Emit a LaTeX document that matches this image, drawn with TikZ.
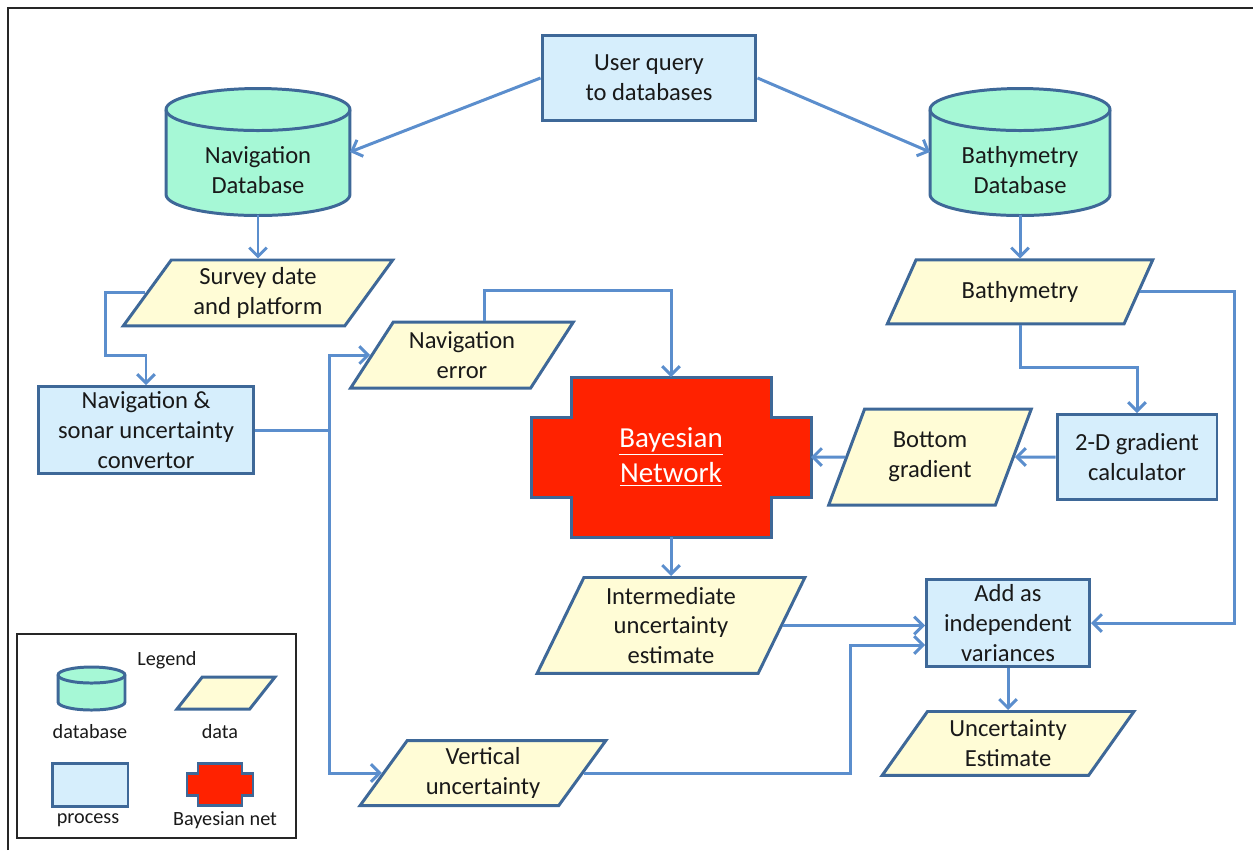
\documentclass[tikz,border=0pt]{standalone}
\usepackage{fontspec}
\setmainfont{Carlito}
\usepackage{tikz}
\usetikzlibrary{shapes.geometric, arrows.meta, positioning, calc, backgrounds}
\definecolor{linkblue}{RGB}{91,142,205}
\definecolor{edgeblue}{RGB}{62,104,152}
\definecolor{procfill}{RGB}{214,238,252}
\definecolor{datafill}{RGB}{255,252,214}
\definecolor{dbfill}{RGB}{166,248,214}
\definecolor{bnred}{RGB}{255,34,0}
\definecolor{txtgray}{RGB}{25,25,25}
\tikzstyle{arrow} = [draw=linkblue, line width=1.7pt, -{Straight Barb[length=5pt,width=10pt]}]
\tikzstyle{line} = [draw=linkblue, line width=1.7pt, -]

% cylinder drawn round an empty node: node, x radius, y radius
\newcommand{\dbcyl}[3]{%
  \filldraw[fill=dbfill, draw=edgeblue, line width=1.7pt]
    ([yshift=-#3]#1.north west) -- ([yshift=#3]#1.south west)
    arc[start angle=180, end angle=360, x radius=#2, y radius=#3]
    -- ([yshift=-#3]#1.north east)
    arc[start angle=0, end angle=180, x radius=#2, y radius=#3] -- cycle;
  \draw[draw=edgeblue, line width=1.7pt] ([yshift=-#3]#1.north west)
    arc[start angle=180, end angle=360, x radius=#2, y radius=#3];
}
% cross shape: node, outer x, inner x, outer y, arm y
\newcommand{\bncross}[5]{%
  \filldraw[fill=bnred, draw=edgeblue, line width=1.7pt]
    ($(#1.center)+(-#3,-#4)$) -- ($(#1.center)+(#3,-#4)$) -- ($(#1.center)+(#3,-#5)$)
    -- ($(#1.center)+(#2,-#5)$) -- ($(#1.center)+(#2,#5)$) -- ($(#1.center)+(#3,#5)$)
    -- ($(#1.center)+(#3,#4)$) -- ($(#1.center)+(-#3,#4)$) -- ($(#1.center)+(-#3,#5)$)
    -- ($(#1.center)+(-#2,#5)$) -- ($(#1.center)+(-#2,-#5)$) -- ($(#1.center)+(-#3,-#5)$) -- cycle;
}

\begin{document}
\begin{tikzpicture}[
    x=0.02cm, y=-0.02cm,
    every node/.style={font=\fontsize{14}{17}\selectfont, align=center, text=txtgray},
    process/.style={rectangle, draw=edgeblue, line width=1.7pt, fill=procfill, inner xsep=1pt, inner ysep=0pt},
    data/.style={trapezium, trapezium left angle=56, trapezium right angle=124, trapezium stretches=true, draw=edgeblue, line width=1.7pt, fill=datafill, inner sep=1pt},
    tall/.style={trapezium left angle=66, trapezium right angle=114},
    dbase/.style={rectangle, outer sep=0pt, inner sep=1pt},
    bnet/.style={rectangle, outer sep=0pt, text=white, font=\fontsize{16.5}{20}\selectfont},
    legendtext/.style={font=\fontsize{11.5}{14}\selectfont}
]
    \useasboundingbox (0,0) rectangle (1253,850);
    \draw[line width=0.8pt, black!85] (8,850) -- (8,8) -- (1253,8);

    % Top level
    \node[process, minimum width=4.28cm, minimum height=1.7cm] (user) at (649,78) {User query\\to databases};
    \node[dbase, minimum width=3.68cm, minimum height=2.54cm] (navdb) at (258,152) {};
    \node at ([yshift=-0.36cm]navdb.center) {Navigation\\Database};
    \node[dbase, minimum width=3.6cm, minimum height=2.54cm] (bathdb) at (1020,152) {};
    \node at ([yshift=-0.36cm]bathdb.center) {Bathymetry\\Database};
    \node[data, below=0.86cm of navdb, minimum width=5.4cm, minimum height=1.32cm] (survey) {Survey date\\and platform};
    \node[data, below=0.86cm of bathdb, minimum width=5.34cm, minimum height=1.28cm] (bathy) {Bathymetry};

    % Middle
    \node[process, minimum width=4.32cm, minimum height=1.74cm] (conv) at (146,430) {Navigation \&\\sonar uncertainty\\convertor};
    \node[data, minimum width=4.46cm, minimum height=1.32cm] (naverr) at (462,355) {Navigation\\error};
    \node[bnet, minimum width=5.6cm, minimum height=3.2cm] (bayes) at (671,457) {\underline{Bayesian}\\\underline{Network}};
    \node[data, tall, minimum width=4.08cm, minimum height=1.92cm] (bottomgrad) at (930,457) {Bottom\\gradient};
    \node[process, minimum width=3.2cm, minimum height=1.7cm] (calc) at (1137,457) {2-D gradient\\calculator};

    % Bottom
    \node[data, tall, below=0.78cm of bayes, minimum width=5.36cm, minimum height=1.92cm] (inter) {Intermediate\\uncertainty\\estimate};
    \node[process, minimum width=3.26cm, minimum height=1.74cm] (addvar) at (1008,623) {Add as\\independent\\variances};
    \node[data, below=0.84cm of addvar, minimum width=5.04cm, minimum height=1.28cm] (uncest) {Uncertainty\\Estimate};
    \node[data, minimum width=4.92cm, minimum height=1.3cm] (vertunc) at (483,773) {Vertical\\uncertainty};

    % Legend
    \node[draw=black!85, line width=1.3pt, minimum width=5.58cm, minimum height=4.08cm] (legend) at (156.5,736) {};
    \node[legendtext] (legtitle) at (167,660) {Legend};
    \node[dbase, minimum width=1.34cm, minimum height=0.86cm] (legdb) at (91.5,688.5) {};
    \node[data, minimum width=1.96cm, minimum height=0.64cm, trapezium left angle=62, trapezium right angle=118] (legdata) at (226,693) {};
    \node[process, minimum width=1.52cm, minimum height=0.86cm] (legproc) at (90,784.5) {};
    \node[bnet, minimum width=1.32cm, minimum height=0.84cm] (legbn) at (220,784) {};
    \node[legendtext] (legdbtext) at (90,732) {database};
    \node[legendtext] (legdatatext) at (220,732) {data};
    \node[legendtext] (legproctext) at (88,820) {process};
    \node[legendtext] (legbntext) at (225,820) {Bayesian net};

    \begin{scope}[on background layer]
        \dbcyl{navdb}{1.84cm}{0.42cm}
        \dbcyl{bathdb}{1.8cm}{0.42cm}
        \dbcyl{legdb}{0.67cm}{0.16cm}
        \bncross{bayes}{140}{100}{80}{40}
        \bncross{legbn}{33}{22}{21}{11}
    \end{scope}

    % Connections
    \draw[arrow] (user.west) -- (navdb.east);
    \draw[arrow] (user.east) -- (bathdb.west);
    \draw[arrow] (navdb.south) -- (survey.north);
    \draw[arrow] (bathdb.south) -- (bathy.north);
    \draw[arrow] (survey.west) -- ++(-40,0) |- ([yshift=0.6cm]conv.north) -- (conv.north);
    \coordinate (split) at ([xshift=1.48cm]conv.east);
    \draw[line] (conv.east) -- (split);
    \draw[arrow] (split) |- (naverr.west);
    \draw[arrow] (split) |- (vertunc.west);
    \draw[arrow] ([xshift=0.44cm]naverr.north) -- ++(0,-30) -| (bayes.north);
    \draw[arrow] (bayes.south) -- (inter.north);
    \draw[arrow] (inter.east) -- (inter.east -| addvar.west);
    \draw[arrow] (vertunc.east) -| ([xshift=-1.5cm,yshift=-0.44cm]addvar.west) -- ([yshift=-0.44cm]addvar.west);
    \draw[arrow] (bathy.east) -| ([xshift=2.88cm]addvar.east) -- (addvar.east);
    \draw[arrow] (bathy.south) |- ([yshift=0.92cm]calc.north) -- (calc.north);
    \draw[arrow] (calc.west) -- (bottomgrad.east);
    \draw[arrow] (bottomgrad.west) -- (bayes.east);
    \draw[arrow] (addvar.south) -- (addvar.south |- uncest.north);
\end{tikzpicture}
\end{document}
